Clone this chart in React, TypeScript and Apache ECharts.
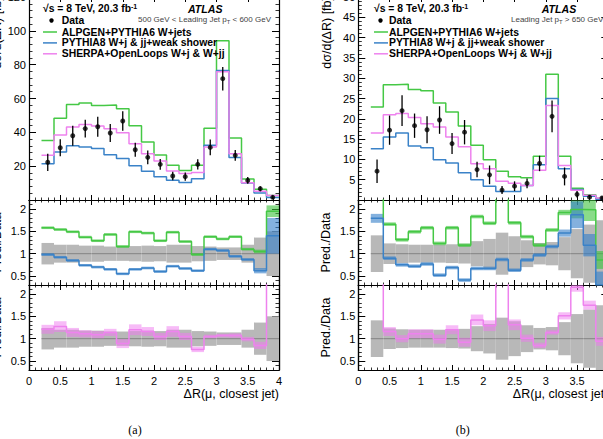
import React, { useEffect, useRef } from "react";
import * as echarts from "echarts";

// ---------- data ----------
const binEdges = [0.2, 0.4, 0.6, 0.8, 1.0, 1.2, 1.4, 1.6, 1.8, 2.0, 2.2, 2.4, 2.6, 2.8, 3.0, 3.2, 3.4, 3.6, 3.8, 4.0];

// (a) 500 GeV < leading jet pT < 600 GeV
const dataL = [22.3, 30.9, 38.0, 42.2, 43.3, 39.6, 46.7, 29.7, 25.2, 21.1, 14.2, 13.8, 21.1, 31.1, 71.7, 26.4, 11.6, 6.7, 1.6];
const dataErrL = [5.1, 5.0, 5.9, 5.3, 5.9, 5.3, 5.7, 4.2, 4.0, 3.2, 2.5, 2.4, 3.0, 4.6, 6.9, 3.2, 2.0, 1.5, 1.0];
const alpgenL = [35.1, 48.3, 56.5, 57.3, 55.9, 56.1, 54.0, 43.9, 34.3, 26.6, 20.5, 17.4, 20.5, 42.4, 94.2, 36.6, 12.4, 6.3, 2.6];
const pythiaL = [21.5, 28.4, 32.0, 31.3, 30.4, 26.8, 24.5, 20.2, 17.0, 13.7, 11.7, 10.3, 12.6, 32.3, 76.6, 25.1, 10.1, 4.2, 1.5];
const sherpaL = [26.4, 38.4, 43.1, 44.7, 43.7, 42.1, 39.7, 33.2, 27.3, 23.0, 17.1, 15.6, 16.2, 31.4, 75.8, 27.3, 10.2, 5.1, 2.6];
const alpgenRatioL = [1.58, 1.54, 1.49, 1.37, 1.29, 1.43, 1.16, 1.49, 1.46, 1.29, 1.48, 1.27, 0.98, 1.38, 1.33, 1.38, 1.10, 1.05, 1.95];
const pythiaRatioL = [0.98, 0.92, 0.85, 0.74, 0.70, 0.65, 0.55, 0.65, 0.68, 0.60, 0.72, 0.67, 0.62, 1.10, 1.07, 0.94, 0.87, 0.62, 1.40];
const sherpaRatioL = [1.21, 1.27, 1.14, 1.11, 1.09, 1.14, 0.89, 1.20, 1.16, 1.05, 1.16, 1.05, 0.76, 1.05, 1.07, 1.07, 0.99, 0.85, 2.5];
const dataBandL = [0.24, 0.2, 0.2, 0.18, 0.18, 0.16, 0.16, 0.17, 0.18, 0.17, 0.2, 0.2, 0.17, 0.16, 0.14, 0.14, 0.2, 0.36, 0.5];
const alpgenBandL = [0.03, 0.03, 0.03, 0.03, 0.03, 0.03, 0.03, 0.03, 0.03, 0.03, 0.03, 0.03, 0.03, 0.03, 0.03, 0.03, 0.03, 0.04, 0.13];
const pythiaBandL = [0.03, 0.03, 0.03, 0.03, 0.03, 0.03, 0.03, 0.03, 0.03, 0.03, 0.03, 0.03, 0.03, 0.03, 0.03, 0.03, 0.03, 0.06, 0.4];
const sherpaBandL = [0.1, 0.12, 0.1, 0.08, 0.08, 0.08, 0.1, 0.12, 0.1, 0.08, 0.12, 0.08, 0.06, 0.04, 0.04, 0.05, 0.05, 0.08, 0.3];

// (b) leading jet pT > 650 GeV
const dataR = [7.1, 17.2, 22.0, 18.3, 17.3, 19.7, 13.9, 16.7, 7.5, 6.2, 2.45, 3.4, 4.1, 9.0, 20.6, 5.8, 1.4, 0.7, 0.5];
const dataErrR = [2.9, 3.6, 3.8, 3.0, 3.3, 3.4, 2.6, 3.0, 1.9, 2.3, 1.0, 1.2, 1.2, 1.9, 3.9, 2.2, 0.8, 0.5, 0.4];
const alpgenR = [22.9, 28.4, 28.5, 27.2, 26.9, 23.9, 21.7, 18.2, 13.5, 9.9, 7.1, 5.7, 5.5, 10.8, 31.0, 10.8, 2.9, 1.3, 0.45];
const pythiaR = [12.6, 15.5, 16.5, 13.3, 12.9, 9.9, 9.1, 6.7, 5.0, 3.4, 2.1, 2.1, 3.6, 8.7, 25.0, 7.7, 2.6, 0.9, 0.2];
const sherpaR = [16.5, 21.0, 21.3, 20.3, 18.8, 18.0, 15.5, 13.1, 8.9, 7.7, 4.6, 4.1, 3.6, 7.3, 23.3, 8.5, 2.4, 1.2, 0.5];
const alpgenRatioR = [3.2, 1.66, 1.31, 1.49, 1.58, 1.23, 1.58, 1.19, 1.83, 1.68, 2.9, 1.69, 1.38, 1.19, 1.53, 1.92, 1.99, 1.98, 0.86];
const pythiaRatioR = [1.79, 0.90, 0.75, 0.72, 0.77, 0.52, 0.69, 0.41, 0.67, 0.67, 0.87, 0.63, 0.86, 0.97, 1.16, 1.46, 1.87, 1.19, 0.3];
const sherpaRatioR = [2.4, 1.16, 1.0, 1.11, 1.11, 0.99, 1.2, 0.92, 1.42, 1.29, 2.5, 1.31, 1.01, 0.85, 1.14, 1.51, 2.15, 1.75, 0.94];
const dataBandR = [0.41, 0.23, 0.21, 0.2, 0.2, 0.2, 0.21, 0.22, 0.28, 0.33, 0.47, 0.39, 0.3, 0.24, 0.26, 0.37, 0.55, 0.65, 0.75];
const alpgenBandR = [0.04, 0.04, 0.04, 0.04, 0.04, 0.04, 0.04, 0.04, 0.04, 0.04, 0.04, 0.04, 0.04, 0.04, 0.04, 0.06, 0.2, 0.25, 0.2];
const pythiaBandR = [0.1, 0.04, 0.04, 0.04, 0.04, 0.04, 0.04, 0.04, 0.04, 0.04, 0.04, 0.04, 0.04, 0.04, 0.04, 0.08, 0.3, 0.25, 0.3];
const sherpaBandR = [0.1, 0.1, 0.08, 0.1, 0.1, 0.1, 0.1, 0.1, 0.12, 0.12, 0.15, 0.12, 0.08, 0.06, 0.05, 0.08, 0.1, 0.1, 0.1];

const legendLabels = ["Data", "ALPGEN+PYTHIA6 W+jets", "PYTHIA8 W+j & jj+weak shower", "SHERPA+OpenLoops W+j & W+jj"];

// ---------- style ----------
const FONT = "'Liberation Sans', Arial, Helvetica, sans-serif";
const GREEN = "#45c845";
const BLUE = "#3a82c8";
const PINK = "#ee82ee";
const PANEL_X = [29, 358.3];
const PANEL_W = 250;
const ROWS = [
  { top: -3, height: 203 },
  { top: 200, height: 85 },
  { top: 285, height: 85 },
];

function stepData(vals: number[]) {
  return binEdges.map((e, i) => [e, vals[Math.min(i, vals.length - 1)]]);
}
function bandData(center: number[], half: number[]) {
  return center.map((c, i) => [binEdges[i], binEdges[i + 1], c - half[i], c + half[i]]);
}
function pointData(vals: number[], errs: number[]) {
  return vals.map((v, i) => [(binEdges[i] + binEdges[i + 1]) / 2, v, errs[i]]);
}

function buildOption() {
  const grid: any[] = [];
  const xAxis: any[] = [];
  const yAxis: any[] = [];
  const primX: number[] = [];
  const primY: number[] = [];
  const series: any[] = [];

  const axisLine = { show: true, onZero: false, lineStyle: { color: "#000", width: 1.2 } };
  const mkX = (g: number, position: string, labels: boolean, p: number) => ({
    type: "value",
    gridIndex: g,
    position,
    min: 0,
    max: 4,
    interval: 0.5,
    axisLine,
    axisTick: { show: true, inside: true, length: 5, lineStyle: { color: "#000", width: 1 } },
    minorTick: { show: true, splitNumber: 5, length: 2.5, lineStyle: { color: "#000", width: 0.8 } },
    splitLine: { show: false },
    minorSplitLine: { show: false },
    axisLabel: {
      show: labels,
      fontSize: 11,
      color: "#000",
      margin: 5,
      fontFamily: FONT,
      showMaxLabel: p === 0,
    },
  });
  const mkYMain = (g: number, position: string, p: number, labels: boolean) => ({
    type: "value",
    gridIndex: g,
    position,
    min: 0,
    max: p === 0 ? 120 : 50,
    interval: p === 0 ? 20 : 5,
    axisLine,
    axisTick: { show: true, inside: true, length: 7, lineStyle: { color: "#000", width: 1 } },
    minorTick: { show: true, splitNumber: 5, length: 3.5, lineStyle: { color: "#000", width: 0.8 } },
    splitLine: { show: false },
    minorSplitLine: { show: false },
    axisLabel: { show: labels, fontSize: 11, color: "#000", margin: 3, fontFamily: FONT, showMinLabel: false },
  });
  const mkYRatio = (g: number, position: string, labels: boolean) => ({
    type: "value",
    gridIndex: g,
    position,
    min: 0.3,
    max: 2.2,
    splitNumber: 4,
    axisLine,
    axisTick: { show: true, inside: true, length: 7, lineStyle: { color: "#000", width: 1 } },
    minorTick: { show: false },
    splitLine: { show: false },
    axisLabel: { show: labels, fontSize: 11, color: "#000", margin: 3, fontFamily: FONT, showMinLabel: false, showMaxLabel: false },
  });
  const mkYRatioMinor = (g: number, position: string) => ({
    type: "value",
    gridIndex: g,
    position,
    min: 0.3,
    max: 2.2,
    interval: 0.1,
    axisLine,
    axisTick: { show: true, inside: true, length: 3.5, lineStyle: { color: "#000", width: 0.8 } },
    splitLine: { show: false },
    axisLabel: { show: false },
  });

  for (let p = 0; p < 2; p++) {
    for (let r = 0; r < 3; r++) {
      const g = p * 3 + r;
      grid.push({
        left: PANEL_X[p],
        width: PANEL_W,
        top: ROWS[r].top,
        height: ROWS[r].height,
        containLabel: false,
        outerBoundsMode: "none",
      });
      primX[g] = xAxis.length;
      xAxis.push(mkX(g, "bottom", r === 2, p));
      xAxis.push(mkX(g, "top", false, p));
      primY[g] = yAxis.length;
      if (r === 0) {
        yAxis.push(mkYMain(g, "left", p, true));
        yAxis.push(mkYMain(g, "right", p, false));
      } else {
        yAxis.push(mkYRatio(g, "left", true));
        yAxis.push(mkYRatioMinor(g, "left"));
        yAxis.push(mkYRatio(g, "right", false));
        yAxis.push(mkYRatioMinor(g, "right"));
      }
    }
  }

  const stepSeries = (g: number, vals: number[], color: string, z = 3) => ({
    type: "line",
    xAxisIndex: primX[g],
    yAxisIndex: primY[g],
    data: stepData(vals),
    step: "end",
    symbol: "none",
    clip: true,
    silent: true,
    z,
    lineStyle: { color, width: 1.5 },
  });
  const bandSeries = (g: number, center: number[], half: number[], fill: string, z: number, midLine?: string) => ({
    type: "custom",
    xAxisIndex: primX[g],
    yAxisIndex: primY[g],
    data: bandData(center, half),
    clip: true,
    silent: true,
    z,
    renderItem: (params: any, api: any) => {
      const a = api.coord([api.value(0), api.value(3)]);
      const b = api.coord([api.value(1), api.value(2)]);
      const cs = params.coordSys;
      const shape = echarts.graphic.clipRectByRect(
        { x: a[0], y: a[1], width: b[0] - a[0], height: b[1] - a[1] },
        { x: cs.x, y: cs.y, width: cs.width, height: cs.height }
      );
      const children: any[] = [];
      if (shape) children.push({ type: "rect", shape, style: { fill } });
      if (midLine) {
        const m = api.coord([api.value(0), (api.value(2) + api.value(3)) / 2]);
        children.push({ type: "line", shape: { x1: a[0], y1: m[1], x2: b[0], y2: m[1] }, style: { stroke: midLine, lineWidth: 0.8 } });
      }
      return { type: "group", children };
    },
  });
  const errSeries = (g: number, vals: number[], errs: number[]) => ({
    type: "custom",
    xAxisIndex: primX[g],
    yAxisIndex: primY[g],
    data: pointData(vals, errs),
    clip: true,
    silent: true,
    z: 5,
    renderItem: (params: any, api: any) => {
      const x = api.value(0), y = api.value(1), e = api.value(2);
      const a = api.coord([x, y - e]);
      const b = api.coord([x, y + e]);
      return { type: "line", shape: { x1: a[0], y1: a[1], x2: b[0], y2: b[1] }, style: { stroke: "#000", lineWidth: 1.3 } };
    },
  });
  const dotSeries = (g: number, vals: number[]) => ({
    type: "scatter",
    xAxisIndex: primX[g],
    yAxisIndex: primY[g],
    data: vals.map((v, i) => [(binEdges[i] + binEdges[i + 1]) / 2, v]),
    symbol: "circle",
    symbolSize: 5,
    itemStyle: { color: "#000" },
    clip: true,
    silent: true,
    z: 6,
  });

  const panels = [
    { data: dataL, err: dataErrL, a: alpgenL, p: pythiaL, s: sherpaL, ar: alpgenRatioL, pr: pythiaRatioL, sr: sherpaRatioL, db: dataBandL, ab: alpgenBandL, pb: pythiaBandL, sb: sherpaBandL },
    { data: dataR, err: dataErrR, a: alpgenR, p: pythiaR, s: sherpaR, ar: alpgenRatioR, pr: pythiaRatioR, sr: sherpaRatioR, db: dataBandR, ab: alpgenBandR, pb: pythiaBandR, sb: sherpaBandR },
  ];
  panels.forEach((d, p) => {
    const g0 = p * 3, g1 = p * 3 + 1, g2 = p * 3 + 2;
    const ones = d.db.map(() => 1);
    series.push(stepSeries(g0, d.a, GREEN));
    series.push(stepSeries(g0, d.p, BLUE));
    series.push(stepSeries(g0, d.s, PINK));
    series.push(errSeries(g0, d.data, d.err));
    series.push(dotSeries(g0, d.data));

    series.push(bandSeries(g1, ones, d.db, "#b8b8b8", 1, "#777"));
    series.push(bandSeries(g1, d.ar, d.ab, "rgba(60,195,60,0.6)", 2));
    series.push(bandSeries(g1, d.pr, d.pb, "rgba(50,125,200,0.6)", 2));
    series.push(stepSeries(g1, d.ar, GREEN));
    series.push(stepSeries(g1, d.pr, BLUE));

    series.push(bandSeries(g2, ones, d.db, "#b8b8b8", 1, "#777"));
    series.push(bandSeries(g2, d.sr, d.sb, "rgba(240,120,240,0.5)", 2));
    series.push(stepSeries(g2, d.sr, PINK));
  });

  // ---------- texts ----------
  const graphic: any[] = [];
  const txt = (x: number, y: number, text: string, extra: any = {}) => ({
    type: "text",
    x,
    y,
    silent: true,
    z: 20,
    style: { text, fontSize: 10.4, fontWeight: "bold", fontFamily: FONT, fill: "#000", align: "left", verticalAlign: "middle", ...extra },
  });
  const rich = {
    sup: { fontSize: 7, fontWeight: "bold", padding: [0, 0, 5, 0], fontFamily: FONT },
  };
  const hdr = [
    { s: 43, atlas: 188, sub: 138, subText: "500 GeV < Leading Jet p{sub|T} < 600 GeV", leg: 43, legText: 61.7, marker: 51.5, xr: PANEL_X[0] + PANEL_W, ytx: -2.6, lbl: "(a)", lblx: 135 },
    { s: 374, atlas: 541.7, sub: 511, subText: "Leading Jet p{sub|T} > 650 GeV", leg: 374, legText: 389, marker: 380.5, xr: PANEL_X[1] + PANEL_W, ytx: 326.7, lbl: "(b)", lblx: 462.7 },
  ];
  hdr.forEach((h) => {
    graphic.push(txt(h.s, 8.5, "√s = 8 TeV, 20.3 fb{sup|-1}", { rich }));
    graphic.push(txt(h.atlas, 8.5, "ATLAS", { fontSize: 10.6, fontWeight: "bold", fontStyle: "italic" }));
    graphic.push(
      txt(h.sub, 19.5, h.subText, {
        fontSize: 8,
        fontWeight: "normal",
        fill: "#444",
        rich: { sub: { fontSize: 5.8, padding: [4, 0, 0, 0], fontFamily: FONT, fill: "#444" } },
      })
    );
    graphic.push({ type: "circle", shape: { cx: h.marker, cy: 20.5, r: 2.2 }, style: { fill: "#000" }, z: 20, silent: true });
    graphic.push(txt(h.legText, 20.5, legendLabels[0]));
    [GREEN, BLUE, PINK].forEach((c, i) => {
      const y = 32 + i * 10.9;
      graphic.push({ type: "line", shape: { x1: h.leg, y1: y, x2: h.leg + 14, y2: y }, style: { stroke: c, lineWidth: 1.5 }, z: 20, silent: true });
      graphic.push(txt(h.legText, y, legendLabels[i + 1]));
    });
    const yt = txt(h.ytx, -3, "dσ/d(ΔR) [fb]", { fontSize: 12.5, fontWeight: "normal", align: "right" });
    yt.rotation = Math.PI / 2;
    graphic.push(yt);
    [242.5, 327.5].forEach((y) => {
      const t = txt(h.ytx - 0.5, y, "Pred./Data", { fontSize: 12.5, fontWeight: "normal", align: "center" });
      t.rotation = Math.PI / 2;
      graphic.push(t);
    });
    graphic.push(txt(h.xr, 393.5, "ΔR(μ, closest jet)", { fontSize: 12.5, fontWeight: "normal", align: "right" }));
    graphic.push(
      txt(h.lblx, 430, h.lbl, { fontSize: 12, fontWeight: "normal", align: "center", fontFamily: "'Liberation Serif', 'Times New Roman', serif" })
    );
  });

  return {
    animation: false,
    backgroundColor: "#fff",
    grid,
    xAxis,
    yAxis,
    series,
    graphic,
  };
}

export default function App() {
  const ref = useRef<HTMLDivElement>(null);
  useEffect(() => {
    const chart = echarts.init(ref.current!, null, { renderer: "svg" });
    chart.setOption(buildOption() as any);
    return () => chart.dispose();
  }, []);
  return (
    <div
      ref={ref}
      style={{ position: "fixed", left: 0, top: 0, width: 603, height: 439, background: "#fff", overflow: "hidden" }}
    />
  );
}
